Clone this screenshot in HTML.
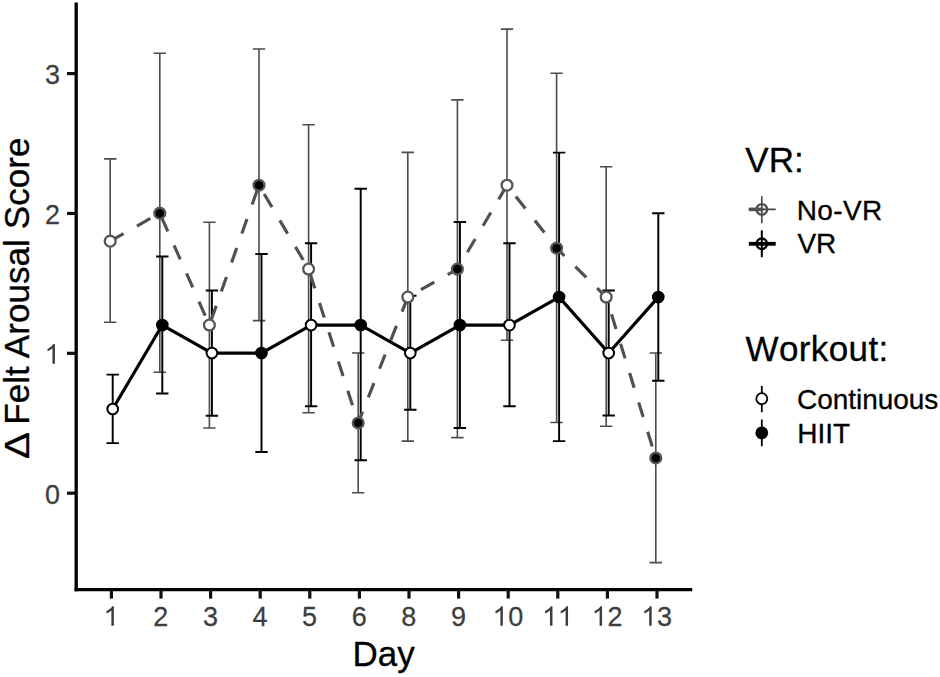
<!DOCTYPE html>
<html><head><meta charset="utf-8"><title>Felt Arousal Score</title>
<style>
html,body{margin:0;padding:0;background:#fff}
body{width:940px;height:677px;position:relative;overflow:hidden;font-family:"Liberation Sans",sans-serif;color:#000}
.t{position:absolute;white-space:nowrap;line-height:32px;height:32px;font-kerning:none;-webkit-text-stroke:0.3px #000}
.s{font-size:28px}
.b{font-size:35px;line-height:40px;height:40px}
.r{text-align:right}
.c{text-align:center}
</style></head><body>
<svg width="940" height="677" viewBox="0 0 940 677" style="position:absolute;left:0;top:0" font-family="Liberation Sans, sans-serif">
<path d="M104.00 158.90H116.40M104.00 322.30H116.40M110.20 158.90V322.30" stroke="#4c4c4c" stroke-width="1.6" fill="none"/>
<path d="M153.60 53.20H166.00M153.60 372.30H166.00M159.80 53.20V372.30" stroke="#4c4c4c" stroke-width="1.6" fill="none"/>
<path d="M203.20 222.20H215.60M203.20 428.00H215.60M209.40 222.20V428.00" stroke="#4c4c4c" stroke-width="1.6" fill="none"/>
<path d="M252.80 49.00H265.20M252.80 320.60H265.20M259.00 49.00V320.60" stroke="#4c4c4c" stroke-width="1.6" fill="none"/>
<path d="M302.40 124.80H314.80M302.40 412.70H314.80M308.60 124.80V412.70" stroke="#4c4c4c" stroke-width="1.6" fill="none"/>
<path d="M352.00 353.00H364.40M352.00 492.80H364.40M358.20 353.00V492.80" stroke="#4c4c4c" stroke-width="1.6" fill="none"/>
<path d="M401.60 152.40H414.00M401.60 441.10H414.00M407.80 152.40V441.10" stroke="#4c4c4c" stroke-width="1.6" fill="none"/>
<path d="M451.20 99.90H463.60M451.20 437.60H463.60M457.40 99.90V437.60" stroke="#4c4c4c" stroke-width="1.6" fill="none"/>
<path d="M500.80 29.10H513.20M500.80 340.30H513.20M507.00 29.10V340.30" stroke="#4c4c4c" stroke-width="1.6" fill="none"/>
<path d="M550.40 73.30H562.80M550.40 422.50H562.80M556.60 73.30V422.50" stroke="#4c4c4c" stroke-width="1.6" fill="none"/>
<path d="M600.00 166.70H612.40M600.00 426.30H612.40M606.20 166.70V426.30" stroke="#4c4c4c" stroke-width="1.6" fill="none"/>
<path d="M649.60 353.00H662.00M649.60 562.60H662.00M655.80 353.00V562.60" stroke="#4c4c4c" stroke-width="1.6" fill="none"/>
<path d="M106.50 374.60H118.90M106.50 443.10H118.90M112.70 374.60V443.10" stroke="#000" stroke-width="1.95" fill="none"/>
<path d="M156.10 256.40H168.50M156.10 393.40H168.50M162.30 256.40V393.40" stroke="#000" stroke-width="1.95" fill="none"/>
<path d="M205.70 290.50H218.10M205.70 415.70H218.10M211.90 290.50V415.70" stroke="#000" stroke-width="1.95" fill="none"/>
<path d="M255.30 253.90H267.70M255.30 451.90H267.70M261.50 253.90V451.90" stroke="#000" stroke-width="1.95" fill="none"/>
<path d="M304.90 243.30H317.30M304.90 406.20H317.30M311.10 243.30V406.20" stroke="#000" stroke-width="1.95" fill="none"/>
<path d="M354.50 188.80H366.90M354.50 460.30H366.90M360.70 188.80V460.30" stroke="#000" stroke-width="1.95" fill="none"/>
<path d="M404.10 295.70H416.50M404.10 409.70H416.50M410.30 295.70V409.70" stroke="#000" stroke-width="1.95" fill="none"/>
<path d="M453.70 222.00H466.10M453.70 428.00H466.10M459.90 222.00V428.00" stroke="#000" stroke-width="1.95" fill="none"/>
<path d="M503.30 243.20H515.70M503.30 406.20H515.70M509.50 243.20V406.20" stroke="#000" stroke-width="1.95" fill="none"/>
<path d="M552.90 152.60H565.30M552.90 441.10H565.30M559.10 152.60V441.10" stroke="#000" stroke-width="1.95" fill="none"/>
<path d="M602.50 290.50H614.90M602.50 415.50H614.90M608.70 290.50V415.50" stroke="#000" stroke-width="1.95" fill="none"/>
<path d="M652.10 213.20H664.50M652.10 380.80H664.50M658.30 213.20V380.80" stroke="#000" stroke-width="1.95" fill="none"/>
<polyline points="110.20,241.13 159.80,213.16 209.40,325.06 259.00,185.19 308.60,269.11 358.20,422.96 407.80,297.08 457.40,269.11 507.00,185.19 556.60,248.13 606.20,297.08 655.80,457.93" fill="none" stroke="#505050" stroke-width="3.15" stroke-dasharray="15.36 15.36" stroke-linejoin="round"/>
<polyline points="112.70,408.98 162.30,325.06 211.90,353.03 261.50,353.03 311.10,325.06 360.70,325.06 410.30,353.03 459.90,325.06 509.50,325.06 559.10,297.08 608.70,353.03 658.30,297.08" fill="none" stroke="#000" stroke-width="3.2" stroke-linejoin="round"/>
<circle cx="110.20" cy="241.13" r="5.40" fill="#fff" stroke="#565656" stroke-width="2.3"/>
<circle cx="159.80" cy="213.16" r="5.40" fill="#000" stroke="#565656" stroke-width="2.3"/>
<circle cx="209.40" cy="325.06" r="5.40" fill="#fff" stroke="#565656" stroke-width="2.3"/>
<circle cx="259.00" cy="185.19" r="5.40" fill="#000" stroke="#565656" stroke-width="2.3"/>
<circle cx="308.60" cy="269.11" r="5.40" fill="#fff" stroke="#565656" stroke-width="2.3"/>
<circle cx="358.20" cy="422.96" r="5.40" fill="#000" stroke="#565656" stroke-width="2.3"/>
<circle cx="407.80" cy="297.08" r="5.40" fill="#fff" stroke="#565656" stroke-width="2.3"/>
<circle cx="457.40" cy="269.11" r="5.40" fill="#000" stroke="#565656" stroke-width="2.3"/>
<circle cx="507.00" cy="185.19" r="5.40" fill="#fff" stroke="#565656" stroke-width="2.3"/>
<circle cx="556.60" cy="248.13" r="5.40" fill="#000" stroke="#565656" stroke-width="2.3"/>
<circle cx="606.20" cy="297.08" r="5.40" fill="#fff" stroke="#565656" stroke-width="2.3"/>
<circle cx="655.80" cy="457.93" r="5.40" fill="#000" stroke="#565656" stroke-width="2.3"/>
<circle cx="112.70" cy="408.98" r="5.35" fill="#fff" stroke="#000" stroke-width="2"/>
<circle cx="162.30" cy="325.06" r="5.35" fill="#000" stroke="#000" stroke-width="2"/>
<circle cx="211.90" cy="353.03" r="5.35" fill="#fff" stroke="#000" stroke-width="2"/>
<circle cx="261.50" cy="353.03" r="5.35" fill="#000" stroke="#000" stroke-width="2"/>
<circle cx="311.10" cy="325.06" r="5.35" fill="#fff" stroke="#000" stroke-width="2"/>
<circle cx="360.70" cy="325.06" r="5.35" fill="#000" stroke="#000" stroke-width="2"/>
<circle cx="410.30" cy="353.03" r="5.35" fill="#fff" stroke="#000" stroke-width="2"/>
<circle cx="459.90" cy="325.06" r="5.35" fill="#000" stroke="#000" stroke-width="2"/>
<circle cx="509.50" cy="325.06" r="5.35" fill="#fff" stroke="#000" stroke-width="2"/>
<circle cx="559.10" cy="297.08" r="5.35" fill="#000" stroke="#000" stroke-width="2"/>
<circle cx="608.70" cy="353.03" r="5.35" fill="#fff" stroke="#000" stroke-width="2"/>
<circle cx="658.30" cy="297.08" r="5.35" fill="#000" stroke="#000" stroke-width="2"/>
<path d="M76.2 2.5V591.2" stroke="#000" stroke-width="3.3" fill="none"/>
<path d="M74.6 589.55H692.2" stroke="#000" stroke-width="3.3" fill="none"/>
<path d="M67 493.20H75" stroke="#111" stroke-width="3.2"/>
<path d="M67 353.33H75" stroke="#111" stroke-width="3.2"/>
<path d="M67 213.46H75" stroke="#111" stroke-width="3.2"/>
<path d="M67 73.59H75" stroke="#111" stroke-width="3.2"/>
<path d="M111.40 590V598.6" stroke="#111" stroke-width="3.2"/>
<path d="M161.00 590V598.6" stroke="#111" stroke-width="3.2"/>
<path d="M210.60 590V598.6" stroke="#111" stroke-width="3.2"/>
<path d="M260.20 590V598.6" stroke="#111" stroke-width="3.2"/>
<path d="M309.80 590V598.6" stroke="#111" stroke-width="3.2"/>
<path d="M359.40 590V598.6" stroke="#111" stroke-width="3.2"/>
<path d="M409.00 590V598.6" stroke="#111" stroke-width="3.2"/>
<path d="M458.60 590V598.6" stroke="#111" stroke-width="3.2"/>
<path d="M508.20 590V598.6" stroke="#111" stroke-width="3.2"/>
<path d="M557.80 590V598.6" stroke="#111" stroke-width="3.2"/>
<path d="M607.40 590V598.6" stroke="#111" stroke-width="3.2"/>
<path d="M657.00 590V598.6" stroke="#111" stroke-width="3.2"/>
<path d="M761.80 196.2V223.3M748.8 209.4H775.7" stroke="#454545" stroke-width="1.65" fill="none"/>
<path d="M748.8 209.4H775.7" stroke="#505050" stroke-width="3.6" stroke-dasharray="14.6 15.4" fill="none"/>
<circle cx="761.80" cy="209.4" r="5.30" fill="none" stroke="#505050" stroke-width="2.3"/>
<path d="M761.80 230.3V257.2" stroke="#000" stroke-width="2" fill="none"/>
<path d="M748.8 243.8H775.7" stroke="#000" stroke-width="3.8" fill="none"/>
<circle cx="761.80" cy="243.8" r="5.30" fill="none" stroke="#000" stroke-width="2.3"/>
<path d="M761.80 386V412.3M761.80 419.5V446.3" stroke="#000" stroke-width="1.8" fill="none"/>
<circle cx="761.80" cy="398.7" r="5.50" fill="#fff" stroke="#000" stroke-width="1.8"/>
<circle cx="761.80" cy="432.9" r="5.50" fill="#000" stroke="#000" stroke-width="1.8"/>
<text transform="translate(45.02,503.50) scale(0.965,1.020)" font-size="28" fill="#3d3d3d" stroke="#3d3d3d" stroke-width="0.25">0</text>
<path transform="translate(44.50,363.63) scale(0.01367,-0.01333)" d="M763 0H583V1147Q518 1085 412.5 1023T223 930V1104Q374 1175 487 1276T647 1472H763Z" fill="#3d3d3d"/>
<text transform="translate(45.02,223.76) scale(0.965,1.020)" font-size="28" fill="#3d3d3d" stroke="#3d3d3d" stroke-width="0.25">2</text>
<text transform="translate(45.02,83.89) scale(0.965,1.020)" font-size="28" fill="#3d3d3d" stroke="#3d3d3d" stroke-width="0.25">3</text>
<path transform="translate(103.42,625.80) scale(0.01367,-0.01333)" d="M763 0H583V1147Q518 1085 412.5 1023T223 930V1104Q374 1175 487 1276T647 1472H763Z" fill="#3d3d3d"/>
<text transform="translate(153.29,625.80) scale(0.965,1.020)" font-size="28" fill="#3d3d3d" stroke="#3d3d3d" stroke-width="0.25">2</text>
<text transform="translate(202.89,625.80) scale(0.965,1.020)" font-size="28" fill="#3d3d3d" stroke="#3d3d3d" stroke-width="0.25">3</text>
<text transform="translate(252.49,625.80) scale(0.965,1.020)" font-size="28" fill="#3d3d3d" stroke="#3d3d3d" stroke-width="0.25">4</text>
<text transform="translate(302.09,625.80) scale(0.965,1.020)" font-size="28" fill="#3d3d3d" stroke="#3d3d3d" stroke-width="0.25">5</text>
<text transform="translate(351.69,625.80) scale(0.965,1.020)" font-size="28" fill="#3d3d3d" stroke="#3d3d3d" stroke-width="0.25">6</text>
<text transform="translate(401.29,625.80) scale(0.965,1.020)" font-size="28" fill="#3d3d3d" stroke="#3d3d3d" stroke-width="0.25">8</text>
<text transform="translate(450.89,625.80) scale(0.965,1.020)" font-size="28" fill="#3d3d3d" stroke="#3d3d3d" stroke-width="0.25">9</text>
<path transform="translate(492.43,625.80) scale(0.01367,-0.01333)" d="M763 0H583V1147Q518 1085 412.5 1023T223 930V1104Q374 1175 487 1276T647 1472H763Z" fill="#3d3d3d"/><text transform="translate(508.27,625.80) scale(0.965,1.020)" font-size="28" fill="#3d3d3d" stroke="#3d3d3d" stroke-width="0.25">0</text>
<path transform="translate(542.03,625.80) scale(0.01367,-0.01333)" d="M763 0H583V1147Q518 1085 412.5 1023T223 930V1104Q374 1175 487 1276T647 1472H763Z" fill="#3d3d3d"/><path transform="translate(557.60,625.80) scale(0.01367,-0.01333)" d="M763 0H583V1147Q518 1085 412.5 1023T223 930V1104Q374 1175 487 1276T647 1472H763Z" fill="#3d3d3d"/>
<path transform="translate(591.63,625.80) scale(0.01367,-0.01333)" d="M763 0H583V1147Q518 1085 412.5 1023T223 930V1104Q374 1175 487 1276T647 1472H763Z" fill="#3d3d3d"/><text transform="translate(607.47,625.80) scale(0.965,1.020)" font-size="28" fill="#3d3d3d" stroke="#3d3d3d" stroke-width="0.25">2</text>
<path transform="translate(641.23,625.80) scale(0.01367,-0.01333)" d="M763 0H583V1147Q518 1085 412.5 1023T223 930V1104Q374 1175 487 1276T647 1472H763Z" fill="#3d3d3d"/><text transform="translate(657.07,625.80) scale(0.965,1.020)" font-size="28" fill="#3d3d3d" stroke="#3d3d3d" stroke-width="0.25">3</text><text transform="translate(28.6,459.0) rotate(-90) scale(1.15,1)" font-size="35" fill="#000" stroke="#000" stroke-width="0.3">&#916;</text><text transform="translate(28.6,424.8) rotate(-90)" font-size="35" fill="#000" stroke="#000" stroke-width="0.3" letter-spacing="0.08" style="white-space:pre">Felt Arousal Score</text></svg>
<div class="t b c" id="xt" style="left:283.7px;width:200px;top:633.5px">Day</div>
<div class="t b" id="l1" style="left:745.2px;top:139.7px;letter-spacing:0.15px">VR:</div>
<div class="t s" id="l1a" style="left:796.8px;top:194.6px;letter-spacing:0.35px">No-VR</div>
<div class="t s" id="l1b" style="left:797.4px;top:228.4px">VR</div>
<div class="t b" id="l2" style="left:745.5px;top:329.2px;letter-spacing:0.4px">Workout:</div>
<div class="t s" id="l2a" style="left:797.1px;top:383.6px;letter-spacing:-0.05px">Continuous</div>
<div class="t s" id="l2b" style="left:797.3px;top:417.6px">HIIT</div>
</body></html>
